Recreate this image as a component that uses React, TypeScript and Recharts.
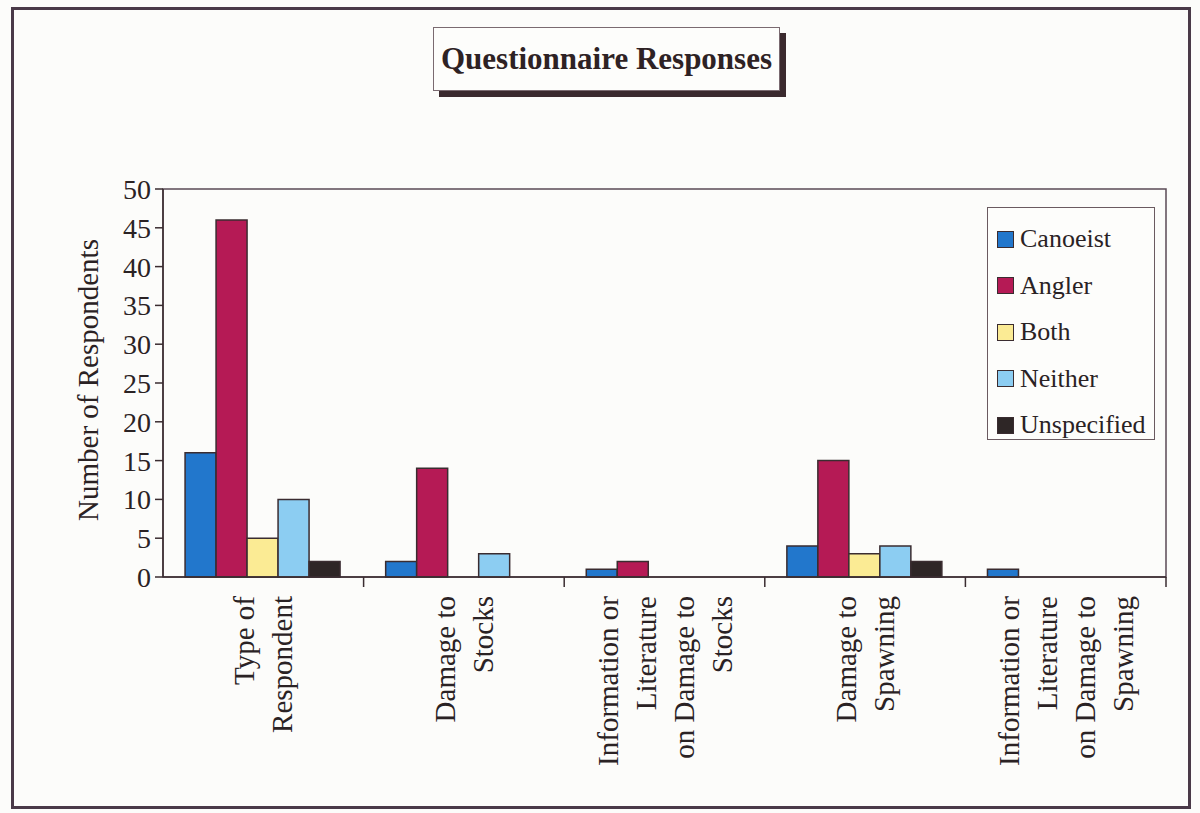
import React from 'react';
import { BarChart, Bar, XAxis, YAxis, ReferenceArea } from 'recharts';

// Response categories (line breaks mark the wrapped axis labels)
const categories = [
  'Type of\nRespondent',
  'Damage to\nStocks',
  'Information or\nLiterature\non Damage to\nStocks',
  'Damage to\nSpawning',
  'Information or\nLiterature\non Damage to\nSpawning',
];

const canoeist = [16, 2, 1, 4, 1];
const angler = [46, 14, 2, 15, 0];
const both = [5, 0, 0, 3, 0];
const neither = [10, 3, 0, 4, 0];
const unspecified = [2, 0, 0, 2, 0];

const yTicks = [0, 5, 10, 15, 20, 25, 30, 35, 40, 45, 50];

const series = [
  { key: 'canoeist', name: 'Canoeist', color: '#2277cc' },
  { key: 'angler', name: 'Angler', color: '#b51a55' },
  { key: 'both', name: 'Both', color: '#fbeb94' },
  { key: 'neither', name: 'Neither', color: '#8ccdf2' },
  { key: 'unspecified', name: 'Unspecified', color: '#2e2626' },
];

const data = categories.map((label, i) => ({
  label,
  canoeist: canoeist[i],
  angler: angler[i],
  both: both[i],
  neither: neither[i],
  unspecified: unspecified[i],
}));

const W = 1200;
const H = 813;
const PLOT_LEFT = 163;
const PLOT_RIGHT = 1166;
const PLOT_TOP = 189;
const PLOT_BOTTOM = 577;
const Y_AXIS_W = 70;
const X_AXIS_H = 230;
const BAND = (PLOT_RIGHT - PLOT_LEFT) / categories.length;

const FONT = '"Liberation Serif", "DejaVu Serif", serif';
const INK = '#3a2c30';
const TEXT = '#2a2224';

const CategoryTick = ({ x, y, payload }: any) => {
  const lines = String(payload.value).split('\n');
  const step = 38;
  return (
    <g>
      <line x1={x + BAND / 2} x2={x + BAND / 2} y1={y} y2={y + 10} stroke={INK} strokeWidth={1.5} />
      {lines.map((line, i) => (
        <text
          key={i}
          x={0}
          y={0}
          transform={`translate(${x + (i - (lines.length - 1) / 2) * step}, ${y + 19}) rotate(-90)`}
          textAnchor="end"
          dominantBaseline="central"
          fontFamily={FONT}
          fontSize={29}
          fill={TEXT}
        >
          {line}
        </text>
      ))}
    </g>
  );
};

export default function App() {
  return (
    <div
      style={{
        position: 'absolute',
        left: 0,
        top: 0,
        width: W,
        height: H,
        background: '#fcfcfa',
        overflow: 'hidden',
      }}
    >
      {/* outer frame */}
      <div
        style={{
          position: 'absolute',
          left: 11,
          top: 7,
          width: 1180,
          height: 802,
          border: '3px solid #4a3a48',
          boxSizing: 'border-box',
        }}
      />

      <div style={{ position: 'absolute', left: 0, top: 0 }}>
        <BarChart
          width={W}
          height={H}
          data={data}
          margin={{
            top: PLOT_TOP,
            right: W - PLOT_RIGHT,
            bottom: H - PLOT_BOTTOM - X_AXIS_H,
            left: PLOT_LEFT - Y_AXIS_W,
          }}
          barCategoryGap="11%"
          barGap={0}
        >
          <ReferenceArea y1={0} y2={50} fill="none" stroke="#5a4a55" strokeWidth={1.5} ifOverflow="visible" />
          <XAxis
            dataKey="label"
            height={X_AXIS_H}
            interval={0}
            tickSize={0}
            tickMargin={0}
            tickLine={false}
            axisLine={{ stroke: INK, strokeWidth: 1.5 }}
            tick={<CategoryTick />}
          />
          <YAxis
            width={Y_AXIS_W}
            domain={[0, 50]}
            ticks={yTicks}
            interval={0}
            tickSize={8}
            tickMargin={4}
            axisLine={{ stroke: INK, strokeWidth: 1.5 }}
            tickLine={{ stroke: INK, strokeWidth: 1.5 }}
            tick={{ fontFamily: FONT, fontSize: 28, fill: TEXT }}
          />
          {series.map((s) => (
            <Bar
              key={s.key}
              dataKey={s.key}
              name={s.name}
              fill={s.color}
              stroke={INK}
              strokeWidth={1.5}
              isAnimationActive={false}
            />
          ))}
        </BarChart>
      </div>

      {/* title box with drop shadow */}
      <div
        style={{
          position: 'absolute',
          left: 433,
          top: 27,
          width: 347,
          height: 64,
          border: '1px solid #7a6a70',
          background: '#fdfdfb',
          boxShadow: '6px 6px 0 #3b2a2e',
          boxSizing: 'border-box',
          display: 'flex',
          alignItems: 'center',
          justifyContent: 'center',
          fontFamily: FONT,
          fontWeight: 'bold',
          fontSize: 31,
          color: '#2e2224',
        }}
      >
        Questionnaire Responses
      </div>

      {/* y axis title */}
      <div
        style={{
          position: 'absolute',
          left: 88,
          top: 380,
          transform: 'translate(-50%, -50%) rotate(-90deg)',
          whiteSpace: 'nowrap',
          fontFamily: FONT,
          fontSize: 29,
          color: TEXT,
        }}
      >
        Number of Respondents
      </div>

      {/* legend */}
      <div
        style={{
          position: 'absolute',
          left: 987,
          top: 207,
          width: 168,
          height: 233,
          border: '1px solid #6a5a60',
          background: '#fdfdfb',
          boxSizing: 'border-box',
          padding: '8px 0 0 9px',
          fontFamily: FONT,
          fontSize: 26,
          color: TEXT,
        }}
      >
        {series.map((s) => (
          <div key={s.key} style={{ display: 'flex', alignItems: 'center', height: 46.5 }}>
            <span
              style={{
                display: 'inline-block',
                width: 15,
                height: 15,
                background: s.color,
                border: `1.5px solid ${INK}`,
                marginRight: 6,
              }}
            />
            {s.name}
          </div>
        ))}
      </div>
    </div>
  );
}
